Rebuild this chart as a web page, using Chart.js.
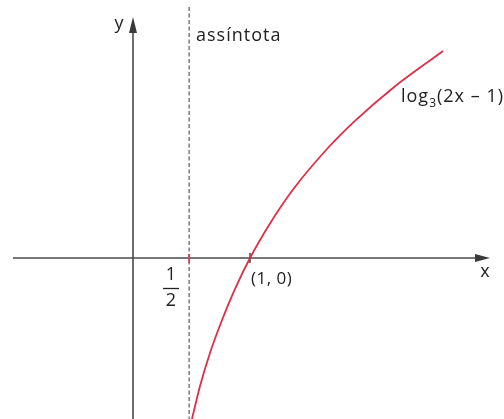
<!DOCTYPE html>
<html>
<head>
<meta charset="utf-8">
<script src="https://cdn.jsdelivr.net/npm/chart.js@4"></script>
<style>
  html, body { margin: 0; padding: 0; background: #fff; }
  #wrap { width: 504px; height: 419px; }
</style>
</head>
<body>
<div id="wrap"><canvas id="graph"></canvas></div>
<script>
const curveX = [0.504, 0.573, 0.658, 0.761, 0.872, 1.0, 1.171, 1.368, 1.658, 1.897, 2.222, 2.65];
const curveY = [-1.025, -0.815, -0.605, -0.395, -0.197, 0, 0.220, 0.436, 0.694, 0.873, 1.083, 1.318];
const asymptoteX = 0.48;
const rootPoint = [1, 0];

const font = '"Open Sans", "DejaVu Sans", sans-serif';

// draw the axes, asymptote and labels under the curve
const axesPlugin = {
    id: 'axes',
    beforeDatasetsDraw(chart) {
        const ctx = chart.ctx;
        const xs = chart.scales.x, ys = chart.scales.y;
        const ox = xs.getPixelForValue(0);
        const oy = ys.getPixelForValue(0);
        const ax = xs.getPixelForValue(asymptoteX);

        ctx.save();
        // x axis
        ctx.strokeStyle = '#4a4a4a';
        ctx.fillStyle = '#3a3a3a';
        ctx.lineWidth = 1.6;
        ctx.beginPath();
        ctx.moveTo(13, oy);
        ctx.lineTo(478, oy);
        ctx.stroke();
        ctx.beginPath();
        ctx.moveTo(490, oy);
        ctx.lineTo(475, oy - 4);
        ctx.lineTo(475, oy + 4);
        ctx.closePath();
        ctx.fill();

        // y axis
        ctx.beginPath();
        ctx.moveTo(ox, chart.height);
        ctx.lineTo(ox, 30);
        ctx.stroke();
        ctx.beginPath();
        ctx.moveTo(ox, 17);
        ctx.lineTo(ox - 4, 33);
        ctx.lineTo(ox + 4, 33);
        ctx.closePath();
        ctx.fill();

        // asymptote
        ctx.strokeStyle = '#7a7a7a';
        ctx.lineWidth = 1.5;
        ctx.setLineDash([4, 2.5]);
        ctx.beginPath();
        ctx.moveTo(ax, 7);
        ctx.lineTo(ax, chart.height);
        ctx.stroke();
        ctx.setLineDash([]);

        // ticks
        ctx.strokeStyle = '#d93a50';
        ctx.lineWidth = 1.8;
        ctx.beginPath();
        ctx.moveTo(ax, oy - 4);
        ctx.lineTo(ax, oy + 5);
        ctx.stroke();
        const rx = xs.getPixelForValue(rootPoint[0]);
        ctx.strokeStyle = '#333';
        ctx.lineWidth = 1.4;
        ctx.beginPath();
        ctx.moveTo(rx, oy - 5);
        ctx.lineTo(rx, oy + 5);
        ctx.stroke();

        // labels
        ctx.fillStyle = '#222';
        ctx.textBaseline = 'middle';
        ctx.font = '18px ' + font;
        ctx.textAlign = 'center';
        ctx.fillText('y', 119, 24);
        ctx.fillText('x', 485, 272);
        ctx.fillText('1', 171, 275);
        ctx.fillText('2', 171, 301);
        ctx.lineWidth = 1.3;
        ctx.strokeStyle = '#222';
        ctx.beginPath();
        ctx.moveTo(163, 288.5);
        ctx.lineTo(179, 288.5);
        ctx.stroke();

        ctx.textAlign = 'left';
        ctx.letterSpacing = '1px';
        ctx.fillText('assíntota', 196, 36);
        ctx.font = '17px ' + font;
        ctx.letterSpacing = '0.5px';
        ctx.fillText('(1, 0)', 251, 279);

        ctx.font = '18px ' + font;
        ctx.letterSpacing = '1px';
        let lx = 401;
        ctx.fillText('log', lx, 97);
        lx += ctx.measureText('log').width;
        ctx.font = '12px ' + font;
        ctx.fillText('3', lx, 104);
        lx += ctx.measureText('3').width;
        ctx.font = '18px ' + font;
        ctx.fillText('(2x \u2013 1)', lx, 97);
        ctx.restore();
    }
};

new Chart(document.getElementById('graph'), {
    type: 'line',
    data: {
        datasets: [{
            data: curveX.map((x, i) => ({ x: x, y: curveY[i] })),
            borderColor: '#dc3048',
            borderWidth: 1.8,
            pointRadius: 0,
            cubicInterpolationMode: 'monotone',
            fill: false
        }]
    },
    options: {
        responsive: true,
        maintainAspectRatio: false,
        animation: false,
        layout: { padding: 0 },
        plugins: { legend: { display: false }, tooltip: { enabled: false } },
        scales: {
            x: { type: 'linear', display: false, min: -1.1368, max: 3.171 },
            y: { type: 'linear', display: false, min: -1.0255, max: 1.643 }
        }
    },
    plugins: [axesPlugin]
});
</script>
</body>
</html>
